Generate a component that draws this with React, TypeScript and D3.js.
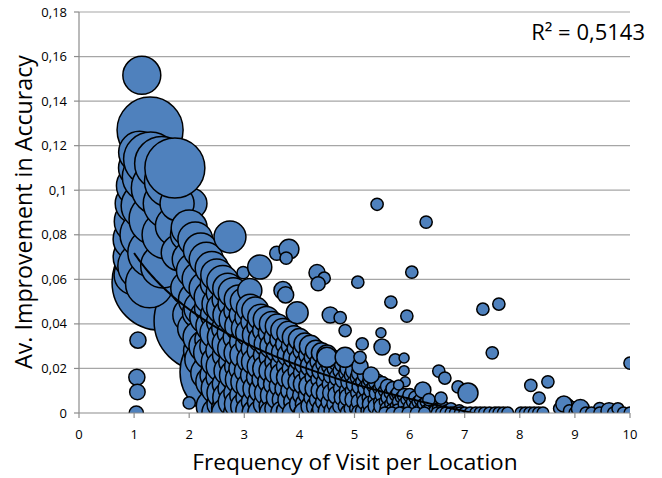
import React from 'react';
import * as d3 from 'd3';

type Bubble = [number, number, number]; // [visit frequency, avg. improvement, bubble size]

// Axis ticks
const xTickValues = [0, 1, 2, 3, 4, 5, 6, 7, 8, 9, 10];
const xTickLabels = ['0', '1', '2', '3', '4', '5', '6', '7', '8', '9', '10'];
const yTickValues = [0, 0.02, 0.04, 0.06, 0.08, 0.1, 0.12, 0.14, 0.16, 0.18];
const yTickLabels = ['0', '0,02', '0,04', '0,06', '0,08', '0,1', '0,12', '0,14', '0,16', '0,18'];

// Logarithmic trend: y = a - b ln(x)
const trendIntercept = 0.0718;
const trendSlope = 0.0365;
const rSquaredLabel = 'R² = 0,5143';

// Largest locations (drawn first, underneath everything)
const bigBubbles: Bubble[] = [
  [1.47, 0.0587, 92],
  [2.27, 0.0413, 100],
  [2.65, 0.0184, 81],
];

// Most frequently improved locations near one visit
const topBubbles: Bubble[] = [
  [1.14, 0.1516, 14.4],
  [1.29, 0.127, 43.6],
];

const leftCluster: Bubble[] = [
  [1.0, 0.062, 16], [1.02, 0.07, 19.4], [1.0, 0.078, 17.6], [1.04, 0.086, 19.4],
  [1.02, 0.094, 16], [1.06, 0.102, 17.6], [1.08, 0.11, 16], [1.1, 0.117, 17.6],
  [1.14, 0.066, 23], [1.18, 0.08, 23], [1.2, 0.093, 23], [1.24, 0.106, 25],
  [1.3, 0.114, 29.2], [1.28, 0.058, 23], [1.34, 0.072, 25], [1.38, 0.087, 27],
  [1.44, 0.101, 29.2], [1.5, 0.112, 29.2], [1.52, 0.066, 19.4], [1.58, 0.08, 23],
  [1.62, 0.094, 25], [1.66, 0.104, 27], [1.75, 0.084, 16], [1.82, 0.072, 13],
  [1.95, 0.08, 10.2], [2.05, 0.094, 9], [2.05, 0.072, 9], [2.25, 0.07, 7.8],
  [1.78, 0.094, 11.6], [1.74, 0.11, 36],
];

const denseBandA: Bubble[] = [
  [2.0, 0.083, 13], [2.02, 0.069, 13], [1.98, 0.056, 12], [2.03, 0.044, 13],
  [2.11, 0.078, 12], [2.09, 0.064, 12.5], [2.12, 0.051, 12], [2.1, 0.038, 11.6],
  [2.21, 0.073, 12], [2.2, 0.06, 13], [2.22, 0.047, 12], [2.19, 0.034, 11], [2.23, 0.024, 11.6],
  [2.31, 0.069, 11.6], [2.3, 0.056, 11], [2.32, 0.043, 11.6], [2.29, 0.03, 10.5], [2.33, 0.018, 11],
  [2.41, 0.065, 11], [2.4, 0.052, 11.6], [2.42, 0.039, 10.8], [2.39, 0.027, 11.6], [2.41, 0.014, 10.2], [2.43, 0.003, 11],
  [2.5, 0.062, 10.2], [2.52, 0.049, 10], [2.49, 0.036, 10.5], [2.51, 0.023, 10.2], [2.5, 0.011, 9.6], [2.52, 0.0, 10.2],
  [2.61, 0.059, 10.2], [2.6, 0.047, 9.8], [2.62, 0.034, 10.2], [2.59, 0.021, 9.6], [2.61, 0.009, 10],
  [2.7, 0.056, 9], [2.71, 0.044, 9.4], [2.69, 0.031, 9], [2.72, 0.019, 8.8], [2.7, 0.007, 9], [2.68, 0.0, 9],
  [2.8, 0.054, 9], [2.81, 0.042, 8.6], [2.79, 0.029, 9], [2.82, 0.017, 8.8], [2.8, 0.005, 9],
  [2.9, 0.051, 8.4], [2.91, 0.039, 8.4], [2.89, 0.027, 8], [2.92, 0.015, 8.4], [2.9, 0.004, 8.2],
];

const denseBandB: Bubble[] = [
  [3.0, 0.05, 7.8], [3.02, 0.038, 7.8], [2.99, 0.026, 7.6], [3.01, 0.014, 7.8], [3.0, 0.003, 7.4],
  [3.1, 0.055, 5.8], [3.11, 0.047, 7.8], [3.09, 0.036, 7.4], [3.12, 0.024, 7.8], [3.1, 0.012, 7.2], [3.1, 0.001, 7.8],
  [3.2, 0.046, 7.2], [3.21, 0.035, 7.2], [3.19, 0.023, 7], [3.22, 0.011, 7.2], [3.2, 0.0, 7],
  [3.3, 0.043, 6.8], [3.31, 0.033, 6.6], [3.29, 0.021, 6.8], [3.32, 0.01, 6.6], [3.3, 0.0, 6.8],
  [3.4, 0.042, 6.8], [3.41, 0.031, 6.4], [3.39, 0.02, 6.8], [3.42, 0.009, 6.6],
  [3.5, 0.04, 6.2], [3.51, 0.03, 6.2], [3.49, 0.019, 6], [3.52, 0.008, 6.2], [3.5, 0.0, 6],
  [3.6, 0.039, 5.8], [3.61, 0.028, 5.8], [3.59, 0.018, 5.6], [3.62, 0.007, 5.8],
  [3.7, 0.037, 5.8], [3.71, 0.027, 5.6], [3.69, 0.017, 5.8], [3.72, 0.006, 5.4], [3.7, 0.0, 5.8],
  [3.8, 0.036, 5.3], [3.81, 0.026, 5.3], [3.79, 0.016, 5.1], [3.82, 0.006, 5.3],
  [3.9, 0.034, 5.3], [3.91, 0.025, 5], [3.89, 0.015, 5.3], [3.92, 0.005, 5], [3.9, 0.0, 5.3],
];

const denseBandC: Bubble[] = [
  [4.0, 0.033, 4.8], [4.01, 0.024, 4.8], [3.99, 0.014, 4.6], [4.02, 0.004, 4.8],
  [4.1, 0.031, 4.8], [4.11, 0.022, 4.6], [4.09, 0.013, 4.8], [4.12, 0.004, 4.5], [4.1, 0.0, 4.8],
  [4.2, 0.03, 4.8], [4.21, 0.021, 4.5], [4.19, 0.012, 4.8], [4.22, 0.003, 4.4],
  [4.3, 0.028, 4.4], [4.31, 0.02, 4.4], [4.29, 0.011, 4.2], [4.32, 0.003, 4.4],
  [4.4, 0.027, 4], [4.41, 0.019, 4], [4.39, 0.01, 3.8], [4.42, 0.002, 4],
  [4.5, 0.026, 4], [4.51, 0.018, 3.8], [4.49, 0.009, 4], [4.52, 0.001, 3.8],
  [4.6, 0.024, 3.6], [4.61, 0.017, 3.6], [4.59, 0.009, 3.4], [4.62, 0.001, 3.6],
  [4.7, 0.023, 3.6], [4.71, 0.016, 3.4], [4.69, 0.008, 3.6], [4.7, 0.0, 3.4],
  [4.8, 0.022, 3.2], [4.81, 0.015, 3.2], [4.79, 0.007, 3],
  [4.9, 0.02, 3.2], [4.91, 0.014, 3], [4.89, 0.007, 3.2], [4.9, 0.0, 3],
];

const denseBandD: Bubble[] = [
  [5.0, 0.019, 3.2], [5.01, 0.013, 3], [4.99, 0.006, 3.2],
  [5.1, 0.018, 2.9], [5.11, 0.012, 2.9], [5.09, 0.005, 2.7], [5.1, 0.0, 2.9],
  [5.2, 0.017, 2.6], [5.21, 0.011, 2.6], [5.19, 0.005, 2.5],
  [5.3, 0.015, 2.6], [5.31, 0.01, 2.4], [5.29, 0.004, 2.6], [5.3, 0.0, 2.4],
  [5.4, 0.014, 2.6], [5.41, 0.009, 2.4], [5.39, 0.003, 2.5],
  [5.5, 0.013, 2.3], [5.51, 0.008, 2.2], [5.49, 0.003, 2.3],
  [5.6, 0.012, 2], [5.61, 0.007, 2], [5.59, 0.002, 1.9],
  [5.7, 0.011, 2], [5.71, 0.006, 1.9], [5.69, 0.001, 2],
  [5.8, 0.009, 2], [5.81, 0.005, 1.8], [5.79, 0.001, 1.9],
  [5.9, 0.008, 1.8], [5.91, 0.004, 1.7], [5.9, 0.0, 1.8],
  [6.0, 0.008, 1.8], [6.01, 0.003, 1.7],
  [6.1, 0.007, 1.6], [6.11, 0.003, 1.5],
  [6.2, 0.006, 1.6], [6.21, 0.002, 1.5],
  [6.3, 0.005, 1.4], [6.31, 0.001, 1.4],
  [6.45, 0.004, 1.4], [6.46, 0.001, 1.4],
  [6.6, 0.003, 1.4], [6.6, 0.0, 1.4],
  [6.75, 0.002, 1.4], [6.9, 0.001, 1.4],
];

// Smaller locations sitting between the larger ones in the main mass
const denseFill: Bubble[] = [
  [2.15, 0.045, 9], [2.17, 0.028, 9], [2.36, 0.047, 8.4], [2.37, 0.033, 8.6], [2.35, 0.021, 8],
  [2.46, 0.058, 8], [2.47, 0.044, 8.4], [2.45, 0.03, 8], [2.46, 0.017, 8.4], [2.47, 0.006, 8],
  [2.56, 0.054, 7.6], [2.57, 0.041, 7.8], [2.55, 0.028, 7.4], [2.56, 0.016, 7.8], [2.57, 0.004, 7.4],
  [2.66, 0.051, 7.2], [2.65, 0.038, 7], [2.67, 0.026, 7.4], [2.66, 0.013, 7], [2.65, 0.002, 7.2],
  [2.76, 0.049, 6.8], [2.75, 0.036, 7], [2.77, 0.023, 6.6], [2.76, 0.011, 6.8],
  [2.86, 0.046, 6.4], [2.85, 0.034, 6.6], [2.87, 0.021, 6.2], [2.86, 0.009, 6.4], [2.85, 0.0, 6.2],
  [2.95, 0.044, 6], [2.96, 0.032, 6.2], [2.94, 0.02, 5.8], [2.96, 0.008, 6],
  [3.05, 0.043, 5.8], [3.06, 0.031, 5.6], [3.04, 0.019, 5.8], [3.06, 0.007, 5.4],
  [3.15, 0.041, 5.4], [3.16, 0.029, 5.6], [3.14, 0.017, 5.2], [3.16, 0.005, 5.4],
  [3.25, 0.039, 5], [3.26, 0.028, 5.2], [3.24, 0.016, 4.8], [3.26, 0.005, 5],
  [3.35, 0.037, 4.8], [3.36, 0.026, 4.6], [3.34, 0.015, 4.8], [3.36, 0.004, 4.6],
  [3.45, 0.036, 4.6], [3.46, 0.025, 4.4], [3.44, 0.014, 4.6], [3.46, 0.003, 4.4],
  [3.55, 0.034, 4.4], [3.56, 0.023, 4.2], [3.54, 0.013, 4.4], [3.56, 0.002, 4.2],
  [3.65, 0.033, 4.2], [3.66, 0.022, 4], [3.64, 0.012, 4.2],
  [3.75, 0.031, 4], [3.76, 0.021, 3.8], [3.74, 0.011, 4], [3.76, 0.001, 3.8],
  [3.85, 0.03, 3.8], [3.86, 0.02, 3.6], [3.84, 0.01, 3.8],
  [3.95, 0.029, 3.6], [3.96, 0.019, 3.4], [3.94, 0.009, 3.6],
  [4.05, 0.028, 3.4], [4.06, 0.018, 3.4], [4.04, 0.008, 3.2], [4.06, 0.0, 3.4],
  [4.15, 0.026, 3.2], [4.16, 0.017, 3.2], [4.14, 0.008, 3],
  [4.25, 0.025, 3.2], [4.26, 0.016, 3], [4.24, 0.007, 3],
  [4.35, 0.023, 3], [4.36, 0.015, 2.8], [4.34, 0.006, 3], [4.36, 0.0, 2.8],
  [4.45, 0.022, 2.8], [4.46, 0.014, 2.8], [4.44, 0.005, 2.6],
  [4.55, 0.021, 2.6], [4.56, 0.013, 2.6], [4.54, 0.005, 2.6],
  [4.65, 0.02, 2.6], [4.66, 0.012, 2.4], [4.64, 0.004, 2.4],
  [4.75, 0.019, 2.4], [4.76, 0.011, 2.4], [4.74, 0.003, 2.2],
  [4.85, 0.018, 2.2], [4.86, 0.01, 2.2], [4.84, 0.003, 2.2],
  [4.95, 0.017, 2.2], [4.96, 0.01, 2], [4.94, 0.002, 2],
  [5.05, 0.016, 2], [5.06, 0.009, 2], [5.04, 0.002, 2],
  [5.15, 0.014, 2], [5.16, 0.008, 1.8], [5.14, 0.001, 1.8],
  [5.25, 0.013, 1.8], [5.26, 0.007, 1.8], [5.24, 0.001, 1.8],
  [5.35, 0.012, 1.8], [5.36, 0.006, 1.6],
  [5.45, 0.011, 1.6], [5.46, 0.005, 1.6], [5.44, 0.0, 1.6],
  [5.55, 0.01, 1.6], [5.56, 0.005, 1.5],
  [5.65, 0.009, 1.5], [5.66, 0.004, 1.5],
  [5.75, 0.008, 1.5], [5.76, 0.003, 1.5],
  [5.85, 0.007, 1.4], [5.95, 0.006, 1.4], [6.05, 0.005, 1.4], [6.15, 0.005, 1.4],
  [6.25, 0.004, 1.4], [6.38, 0.003, 1.4], [6.52, 0.002, 1.4], [6.68, 0.001, 1.4], [6.82, 0.0, 1.4],
];

// Scattered locations above the main mass
const scatterPoints: Bubble[] = [
  [1.07, 0.0327, 2.6], [1.05, 0.016, 2.6], [1.06, 0.0094, 2.4], [1.04, 0.0, 2],
  [2.0, 0.0045, 1.5],
  [2.74, 0.079, 10.2], [2.98, 0.063, 1.5], [3.28, 0.0655, 5.8],
  [3.59, 0.0717, 2], [3.81, 0.0735, 4], [3.76, 0.0695, 1.5],
  [3.7, 0.055, 3.2], [3.75, 0.053, 2.6], [3.96, 0.045, 4.8],
  [4.32, 0.063, 2.6], [4.45, 0.0605, 1.5], [4.34, 0.058, 2],
  [5.06, 0.0587, 1.5], [5.41, 0.0937, 1.5], [6.3, 0.0857, 1.5], [6.04, 0.0632, 1.5],
  [5.66, 0.0498, 1.5], [5.95, 0.0435, 1.5],
  [4.56, 0.044, 2.6], [4.74, 0.0428, 1.5], [4.83, 0.037, 1.5],
  [4.5, 0.025, 4], [4.83, 0.025, 4], [5.1, 0.021, 2.6], [5.3, 0.017, 2.6],
  [5.14, 0.031, 1.5], [5.5, 0.0296, 2.6], [5.48, 0.036, 1],
  [5.1, 0.025, 1.5], [5.74, 0.0238, 1.5], [5.9, 0.0247, 1], [5.9, 0.019, 1],
  [5.92, 0.014, 1], [5.8, 0.0126, 1],
  [6.24, 0.0103, 2.6], [6.35, 0.006, 1.5], [6.53, 0.0188, 1.5], [6.64, 0.0157, 1.5],
  [6.57, 0.0067, 1.5], [6.88, 0.0117, 1.5], [7.06, 0.009, 4],
  [7.33, 0.0466, 1.5], [7.62, 0.0489, 1.5], [7.5, 0.027, 1.5],
  [8.2, 0.0124, 1.5], [8.51, 0.014, 1.5], [8.35, 0.0067, 1.5],
  [8.87, 0.0036, 1.5], [8.95, 0.002, 2], [9.05, 0.001, 2.6],
  [9.45, 0.002, 1.5], [9.6, 0.001, 1.5], [10.0, 0.0224, 1.5],
];

// Locations without improvement
const zeroRow: Bubble[] = [
  [5.55, 0.0, 1.4], [5.68, 0.0, 1.4], [5.82, 0.0, 1.4], [5.97, 0.0, 1.4],
  [6.12, 0.0, 1.4], [6.27, 0.0, 1.4], [6.5, 0.0, 1.4], [6.58, 0.0, 1.4],
  [6.66, 0.0, 1.4], [6.75, 0.0, 1.4], [6.83, 0.0, 1.4], [6.92, 0.0, 1.4],
  [7.0, 0.0, 1.4], [7.1, 0.0, 1.4], [7.2, 0.0, 1.4], [7.28, 0.0, 1.4],
  [7.36, 0.0, 1.4], [7.45, 0.0, 1.4], [7.55, 0.0, 1.4], [7.62, 0.0, 1.4],
  [7.7, 0.0, 1.4], [7.78, 0.0, 1.4], [8.02, 0.0, 1.4], [8.1, 0.0, 1.4],
  [8.18, 0.0, 1.4], [8.26, 0.0, 1.4], [8.34, 0.0, 1.4], [8.42, 0.0, 1.4],
  [8.72, 0.002, 1.4], [8.8, 0.004, 2.6], [8.9, 0.001, 1.4], [9.0, 0.0, 1.4],
  [9.1, 0.002, 3.2], [9.2, 0.0, 1.4], [9.3, 0.0, 1.4], [9.45, 0.0, 1.4],
  [9.62, 0.001, 2.6], [9.7, 0.0, 1.4], [9.78, 0.002, 1.4], [9.88, 0.0, 1.4],
  [10.0, 0.0, 1.4],
];

const FONT = '"Open Sans", "Noto Sans", sans-serif';
const FILL = '#4f81bd';

export default function App() {
  const width = 662;
  const height = 478;
  const x = d3.scaleLinear().domain([0, 10]).range([79, 630]);
  const y = d3.scaleLinear().domain([0, 0.18]).range([413, 12]);
  const r = d3.scaleSqrt().domain([0, 100]).range([0, 50]);

  // main mass drawn column by column, upper bubbles first
  const mass: Bubble[] = [...denseBandA, ...denseBandB, ...denseBandC, ...denseBandD, ...denseFill]
    .slice()
    .sort((a, b) => d3.ascending(Math.round(a[0] * 20), Math.round(b[0] * 20)) || d3.descending(a[1], b[1]));

  const bubbles: Bubble[] = [
    ...bigBubbles,
    ...topBubbles,
    ...leftCluster,
    ...mass,
    ...scatterPoints,
    ...zeroRow,
  ];

  const trendX = d3.range(0, 301).map((i) => 1 + (i * 9) / 300);
  const trendPath = d3
    .line<number>()
    .x((v) => x(v))
    .y((v) => y(trendIntercept - trendSlope * Math.log(v)))(trendX) as string;

  const [x0, x1] = x.range();
  const [yb, yt] = y.range();

  return (
    <svg
      width={width}
      height={height}
      style={{ position: 'absolute', left: 0, top: 0, background: '#fff' }}
      fontFamily={FONT}
    >
      <defs>
        <clipPath id="plot-clip">
          <rect x={x0} y={yt} width={x1 - x0} height={yb - yt} />
        </clipPath>
      </defs>

      {yTickValues.slice(1).map((v) => (
        <line key={`g${v}`} x1={x0} x2={x1} y1={y(v)} y2={y(v)} stroke="#a6a6a6" strokeWidth={1.2} />
      ))}

      <g clipPath="url(#plot-clip)">
        {bubbles.map((b, i) => (
          <circle
            key={i}
            cx={x(b[0])}
            cy={y(b[1])}
            r={r(b[2])}
            fill={FILL}
            stroke="#000"
            strokeWidth={1.5}
          />
        ))}
        <path d={trendPath} fill="none" stroke="#000" strokeWidth={2} />
      </g>

      {/* axes */}
      <line x1={x0} x2={x0} y1={yt} y2={yb} stroke="#8c8c8c" strokeWidth={1.2} />
      <line x1={x0} x2={x1} y1={yb} y2={yb} stroke="#8c8c8c" strokeWidth={1.2} />
      {yTickValues.map((v) => (
        <line key={`yt${v}`} x1={x0 - 5} x2={x0} y1={y(v)} y2={y(v)} stroke="#8c8c8c" strokeWidth={1.2} />
      ))}
      {xTickValues.map((v) => (
        <line key={`xt${v}`} x1={x(v)} x2={x(v)} y1={yb} y2={yb + 5} stroke="#8c8c8c" strokeWidth={1.2} />
      ))}

      {yTickValues.map((v, i) => (
        <text key={`yl${v}`} x={67} y={y(v)} dy="0.35em" textAnchor="end" fontSize={13} fill="#000">
          {yTickLabels[i]}
        </text>
      ))}
      {xTickValues.map((v, i) => (
        <text key={`xl${v}`} x={x(v)} y={434} dy="0.35em" textAnchor="middle" fontSize={13} fill="#000">
          {xTickLabels[i]}
        </text>
      ))}

      <text x={355} y={470} textAnchor="middle" fontSize={22.7} fill="#000">
        Frequency of Visit per Location
      </text>
      <text
        transform={`translate(32, 212) rotate(-90)`}
        textAnchor="middle"
        fontSize={23.2}
        fill="#000"
      >
        Av. Improvement in Accuracy
      </text>

      <text x={645} y={40} textAnchor="end" fontSize={22} fill="#000">
        {rSquaredLabel}
      </text>
    </svg>
  );
}
